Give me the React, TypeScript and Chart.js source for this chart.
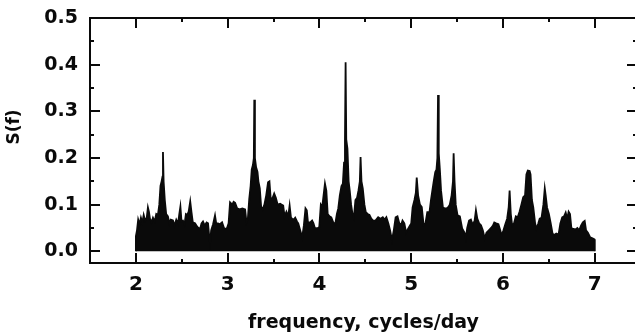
import React, { useEffect, useRef } from "react";
import { Chart, registerables } from "chart.js";

Chart.register(...registerables);

// Envelope of the periodogram S(f)
const freq: number[] = [
  2.000, 2.000, 2.012, 2.025, 2.040, 2.055, 2.070, 2.085, 2.100, 2.118, 2.131, 2.142, 2.153, 2.170, 2.186, 2.205,
  2.222, 2.240, 2.255, 2.268, 2.280, 2.290, 2.295, 2.302, 2.315, 2.330, 2.349, 2.365, 2.380, 2.404, 2.420, 2.440,
  2.460, 2.473, 2.485, 2.497, 2.513, 2.530, 2.545, 2.560, 2.575, 2.592, 2.605, 2.620, 2.644, 2.670, 2.699, 2.715,
  2.731, 2.750, 2.770, 2.786, 2.800, 2.808, 2.820, 2.841, 2.862, 2.875, 2.895, 2.915, 2.939, 2.960, 2.980, 2.993,
  3.010, 3.026, 3.050, 3.065, 3.081, 3.103, 3.130, 3.160, 3.190, 3.205, 3.220, 3.235, 3.250, 3.262, 3.275, 3.285,
  3.290, 3.297, 3.310, 3.325, 3.335, 3.350, 3.365, 3.380, 3.400, 3.420, 3.440, 3.455, 3.468, 3.485, 3.507, 3.525,
  3.545, 3.572, 3.590, 3.605, 3.620, 3.640, 3.660, 3.675, 3.690, 3.703, 3.720, 3.736, 3.755, 3.769, 3.790, 3.812,
  3.830, 3.848, 3.862, 3.875, 3.900, 3.920, 3.935, 3.950, 3.975, 3.998, 4.015, 4.030, 4.045, 4.060, 4.075, 4.090,
  4.110, 4.129, 4.150, 4.172, 4.190, 4.205, 4.222, 4.240, 4.255, 4.268, 4.278, 4.285, 4.292, 4.305, 4.318, 4.330,
  4.345, 4.360, 4.375, 4.392, 4.410, 4.425, 4.440, 4.448, 4.458, 4.472, 4.490, 4.505, 4.525, 4.545, 4.565, 4.585,
  4.610, 4.640, 4.665, 4.690, 4.710, 4.729, 4.750, 4.770, 4.790, 4.810, 4.830, 4.850, 4.870, 4.890, 4.905, 4.925,
  4.945, 4.965, 4.985, 5.000, 5.015, 5.035, 5.050, 5.060, 5.075, 5.095, 5.115, 5.135, 5.155, 5.175, 5.199, 5.215,
  5.230, 5.245, 5.262, 5.275, 5.285, 5.292, 5.300, 5.312, 5.325, 5.345, 5.365, 5.385, 5.405, 5.420, 5.440, 5.455,
  5.462, 5.472, 5.485, 5.505, 5.530, 5.555, 5.580, 5.595, 5.610, 5.630, 5.650, 5.670, 5.690, 5.705, 5.720, 5.740,
  5.760, 5.780, 5.800, 5.820, 5.845, 5.870, 5.890, 5.905, 5.925, 5.950, 5.970, 5.985, 6.005, 6.025, 6.045, 6.062,
  6.072, 6.085, 6.100, 6.120, 6.140, 6.160, 6.180, 6.200, 6.220, 6.240, 6.255, 6.270, 6.290, 6.300, 6.315, 6.330,
  6.350, 6.365, 6.385, 6.400, 6.420, 6.440, 6.455, 6.465, 6.480, 6.500, 6.520, 6.540, 6.560, 6.580, 6.605, 6.625,
  6.645, 6.665, 6.683, 6.700, 6.715, 6.730, 6.745, 6.765, 6.790, 6.810, 6.830, 6.850, 6.870, 6.890, 6.905, 6.925,
  6.950, 6.975, 6.995, 7.000,
];

const power: number[] = [
  0.000, 0.032, 0.045, 0.068, 0.058, 0.072, 0.062, 0.078, 0.066, 0.072, 0.094, 0.085, 0.070, 0.062, 0.072, 0.064,
  0.080, 0.078, 0.100, 0.140, 0.150, 0.160, 0.213, 0.150, 0.110, 0.080, 0.075, 0.060, 0.068, 0.066, 0.055, 0.068,
  0.060, 0.080, 0.096, 0.065, 0.066, 0.058, 0.080, 0.078, 0.085, 0.107, 0.085, 0.062, 0.060, 0.052, 0.048, 0.060,
  0.064, 0.055, 0.062, 0.060, 0.030, 0.018, 0.045, 0.058, 0.077, 0.060, 0.060, 0.058, 0.062, 0.050, 0.048, 0.050,
  0.060, 0.105, 0.100, 0.106, 0.104, 0.092, 0.090, 0.092, 0.090, 0.062, 0.070, 0.112, 0.140, 0.175, 0.185, 0.200,
  0.325, 0.200, 0.180, 0.170, 0.150, 0.135, 0.095, 0.090, 0.100, 0.120, 0.148, 0.150, 0.115, 0.112, 0.124, 0.115,
  0.100, 0.102, 0.100, 0.098, 0.075, 0.085, 0.075, 0.098, 0.072, 0.070, 0.068, 0.072, 0.064, 0.060, 0.045, 0.030,
  0.055, 0.092, 0.088, 0.062, 0.062, 0.066, 0.060, 0.050, 0.049, 0.052, 0.100, 0.095, 0.120, 0.145, 0.130, 0.080,
  0.075, 0.073, 0.062, 0.058, 0.080, 0.092, 0.120, 0.140, 0.145, 0.190, 0.235, 0.405, 0.240, 0.220, 0.150, 0.130,
  0.100, 0.080, 0.072, 0.110, 0.115, 0.130, 0.150, 0.202, 0.150, 0.135, 0.100, 0.084, 0.080, 0.078, 0.070, 0.066,
  0.066, 0.073, 0.070, 0.073, 0.068, 0.073, 0.060, 0.045, 0.024, 0.045, 0.073, 0.075, 0.060, 0.057, 0.066, 0.060,
  0.040, 0.048, 0.055, 0.060, 0.094, 0.110, 0.125, 0.158, 0.120, 0.100, 0.095, 0.056, 0.060, 0.084, 0.084, 0.110,
  0.130, 0.150, 0.170, 0.175, 0.200, 0.335, 0.210, 0.175, 0.130, 0.094, 0.092, 0.092, 0.095, 0.100, 0.120, 0.150,
  0.210, 0.150, 0.100, 0.077, 0.075, 0.049, 0.040, 0.028, 0.050, 0.066, 0.068, 0.057, 0.065, 0.088, 0.070, 0.060,
  0.056, 0.045, 0.028, 0.040, 0.045, 0.050, 0.055, 0.062, 0.060, 0.058, 0.045, 0.034, 0.045, 0.058, 0.070, 0.095,
  0.130, 0.080, 0.055, 0.060, 0.075, 0.073, 0.085, 0.100, 0.116, 0.120, 0.165, 0.173, 0.172, 0.165, 0.110, 0.094,
  0.060, 0.048, 0.060, 0.070, 0.072, 0.100, 0.135, 0.120, 0.094, 0.080, 0.060, 0.038, 0.035, 0.038, 0.036, 0.060,
  0.073, 0.075, 0.083, 0.070, 0.085, 0.080, 0.050, 0.048, 0.047, 0.050, 0.045, 0.055, 0.062, 0.065, 0.045, 0.040,
  0.030, 0.028, 0.026, 0.000,
];

const xMajorTicks: number[] = [2, 3, 4, 5, 6, 7];
const xMinorTicks: number[] = [2.5, 3.5, 4.5, 5.5, 6.5];
const yMajorTicks: number[] = [0.0, 0.1, 0.2, 0.3, 0.4, 0.5];
const yMinorTicks: number[] = [0.05, 0.15, 0.25, 0.35, 0.45];

const xTitle = "frequency, cycles/day";
const yTitle = "S(f)";

const INK = "#0a0a0a";
const FONT = "DejaVu Sans";

const framePlugin = {
  id: "frame",
  afterDraw(chart: any) {
    const { ctx, chartArea } = chart;
    const { left, right, top, bottom } = chartArea;
    const xs = chart.scales.x;
    const ys = chart.scales.y;
    ctx.save();
    ctx.strokeStyle = INK;
    ctx.lineWidth = 2;
    ctx.strokeRect(left, top, right - left, bottom - top);
    const major = 10;
    const minor = 4;
    ctx.beginPath();
    for (const v of xMajorTicks) {
      const px = Math.round(xs.getPixelForValue(v));
      ctx.moveTo(px, bottom); ctx.lineTo(px, bottom - major);
      ctx.moveTo(px, top); ctx.lineTo(px, top + major);
    }
    for (const v of xMinorTicks) {
      const px = Math.round(xs.getPixelForValue(v));
      ctx.moveTo(px, bottom); ctx.lineTo(px, bottom - minor);
      ctx.moveTo(px, top); ctx.lineTo(px, top + minor);
    }
    for (const v of yMajorTicks) {
      const py = Math.round(ys.getPixelForValue(v));
      ctx.moveTo(left, py); ctx.lineTo(left + major, py);
      ctx.moveTo(right, py); ctx.lineTo(right - major, py);
    }
    for (const v of yMinorTicks) {
      const py = Math.round(ys.getPixelForValue(v));
      ctx.moveTo(left, py); ctx.lineTo(left + minor, py);
      ctx.moveTo(right, py); ctx.lineTo(right - minor, py);
    }
    ctx.stroke();
    // y axis title
    ctx.fillStyle = INK;
    ctx.font = `bold 17px "${FONT}"`;
    ctx.textAlign = "center";
    ctx.textBaseline = "middle";
    ctx.translate(15, 127);
    ctx.rotate(-Math.PI / 2);
    ctx.fillText(yTitle, 0, 0);
    ctx.restore();
  },
};

export default function App() {
  const ref = useRef<HTMLCanvasElement | null>(null);
  useEffect(() => {
    if (!ref.current) return;
    const points = freq.map((f, i) => ({ x: f, y: power[i] }));
    const chart = new Chart(ref.current, {
      type: "line",
      data: {
        datasets: [
          {
            data: points,
            borderColor: INK,
            backgroundColor: INK,
            borderWidth: 1.8,
            pointRadius: 0,
            tension: 0,
            fill: "origin",
          },
        ],
      },
      options: {
        responsive: false,
        animation: false,
        events: [],
        layout: { padding: { left: 0, top: 18, right: 8, bottom: 0 } },
        plugins: { legend: { display: false }, tooltip: { enabled: false } },
        scales: {
          x: {
            type: "linear",
            min: 1.5,
            max: 7.46,
            grid: { display: false, drawTicks: false, tickLength: 0 },
            border: { display: false },
            afterBuildTicks: (s: any) => {
              s.ticks = xMajorTicks.map((v) => ({ value: v }));
            },
            afterFit: (s: any) => {
              s.height = 71;
              s.paddingLeft = 0;
              s.paddingRight = 0;
            },
            ticks: {
              color: INK,
              font: { family: FONT, size: 20, weight: "bold" },
              padding: 10,
              maxRotation: 0,
              callback: (v: any) => String(v),
            },
            title: {
              display: true,
              text: xTitle,
              color: INK,
              font: { family: FONT, size: 19, weight: "bold" },
              padding: 0,
            },
          },
          y: {
            type: "linear",
            min: -0.025,
            max: 0.5,
            grid: { display: false, drawTicks: false, tickLength: 0 },
            border: { display: false },
            afterBuildTicks: (s: any) => {
              s.ticks = yMajorTicks.map((v) => ({ value: v }));
            },
            afterFit: (s: any) => {
              s.width = 90;
              s.paddingTop = 0;
              s.paddingBottom = 0;
            },
            ticks: {
              color: INK,
              font: { family: FONT, size: 19, weight: "bold" },
              padding: 12,
              callback: (v: any) => Number(v).toFixed(1),
            },
          },
        },
      },
      plugins: [framePlugin],
    });
    return () => chart.destroy();
  }, []);
  return (
    <div
      style={{
        position: "fixed",
        left: 0,
        top: 0,
        width: 635,
        height: 334,
        overflow: "hidden",
        background: "#fff",
      }}
    >
      <canvas ref={ref} width={645} height={334} style={{ display: "block" }} />
    </div>
  );
}
